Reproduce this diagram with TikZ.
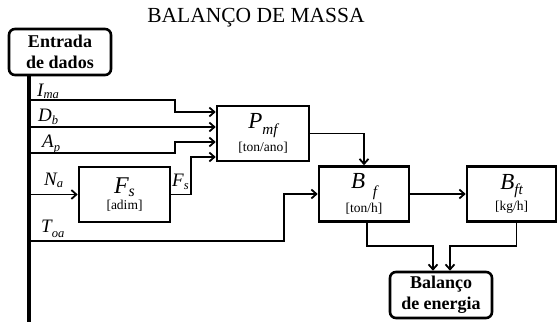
\documentclass[tikz,border=0pt]{standalone}
\usepackage{fontspec}
\setmainfont{Liberation Serif}
\usepackage{graphicx}
\usetikzlibrary{arrows.meta,calc}
\newcommand{\vsym}[4]{{\itshape\fontsize{#1}{#1}\selectfont #2\raisebox{-#3}{\fontsize{0.66\dimexpr#1pt\relax}{10}\selectfont #4}}}
\newcommand{\vunit}[1]{{\fontsize{13.5}{15}\selectfont #1}}
\tikzset{
  blk/.style={draw, line width=2.6pt, minimum width=#1, minimum height=55pt, inner sep=0pt, align=center},
  blk/.default=91pt,
  rblk/.style={draw, line width=2.6pt, rounded corners=6pt, minimum width=102pt, minimum height=46pt, inner sep=0pt, align=center, font=\bfseries\fontsize{18}{21}\selectfont},
  wire/.style={line width=1.8pt},
  arr/.style={wire, -{Straight Barb[length=5pt,width=9pt,line width=1.8pt]}},
  lbl/.style={anchor=base west, inner sep=0pt},
}
\begin{document}
\begin{tikzpicture}[x=1pt,y=-1pt]
\useasboundingbox (0,0) rectangle (557,322);
\node (title) at (256,18) {\fontsize{21.5}{21.5}\selectfont BALANÇO DE MASSA};
\node[rblk] (ent) at (60,52) {Entrada\\de dados};
\node[blk=92pt] (Pmf) at (263,133.5) {\vsym{23}{P}{6pt}{mf}\\[3pt]\vunit{[ton/ano]}};
\node[blk=91pt] (Fs) at (124.5,194.5) {\vsym{24}{F}{3pt}{s}\\[2pt]\vunit{[adim]}};
\node[blk=90pt] (Bf) at (364,194) {\vsym{23}{B\,\,}{8pt}{f}\\[2pt]\vunit{[ton/h]}};
\node[blk=89pt] (Bft) at (511.5,194) {\vsym{23}{B}{5pt}{ft}\\[2pt]\vunit{[kg/h]}};
\node[rblk] (Bal) at (441,295) {Balanço\\de energia};
% bus
\coordinate (bt) at (29,75);
\coordinate (bb) at (29,322);
\draw[line width=4pt] (bt) -- (bb);
\coordinate (bI) at (29,100);
\coordinate (bD) at (29,127);
\coordinate (bA) at (29,153);
\coordinate (bN) at (29,194.5);
\coordinate (bT) at (29,241);
% labels
\node[lbl] (lI) at (37,96) {\vsym{19}{I}{2pt}{ma}};
\node[lbl] (lD) at (38,121) {\vsym{19}{D}{3pt}{b}};
\node[lbl] (lA) at (42,147) {\vsym{19}{A}{4pt}{p}};
\node[lbl] (lN) at (44,185) {\vsym{19}{N}{2pt}{a}};
\node[lbl] (lT) at (41,232) {\vsym{19}{T}{5pt}{oa}};
\node[lbl] (lF) at (172,186) {\vsym{19}{F}{3pt}{s}};
% connectors
\draw[arr] (bI) -| ($(Pmf.west)+(-41,-21.5)$) -- ($(Pmf.west)+(0,-21.5)$);
\draw[arr] (bD) -- ($(Pmf.west)+(0,-6.5)$);
\draw[arr] (bA) -| ($(Pmf.west)+(-41,8.5)$) -- ($(Pmf.west)+(0,8.5)$);
\draw[arr] (Fs.east) -| ($(Pmf.west)+(-25,23.5)$) -- ($(Pmf.west)+(0,23.5)$);
\draw[arr] (bN) -- (Fs.west);
\draw[arr] (bT) -| ($(Bf.west)+(-34,0)$) -- (Bf.west);
\draw[arr] (Pmf.east) -| (Bf.north);
\draw[arr] (Bf.east) -- (Bft.west);
\draw[arr] ($(Bf.south)+(3,0)$) |- ($(Bal.north)+(-8,-25)$) -- ($(Bal.north)+(-8,0)$);
\draw[arr] ($(Bft.south)+(5,0)$) |- ($(Bal.north)+(9,-25)$) -- ($(Bal.north)+(9,0)$);
\end{tikzpicture}
\end{document}
